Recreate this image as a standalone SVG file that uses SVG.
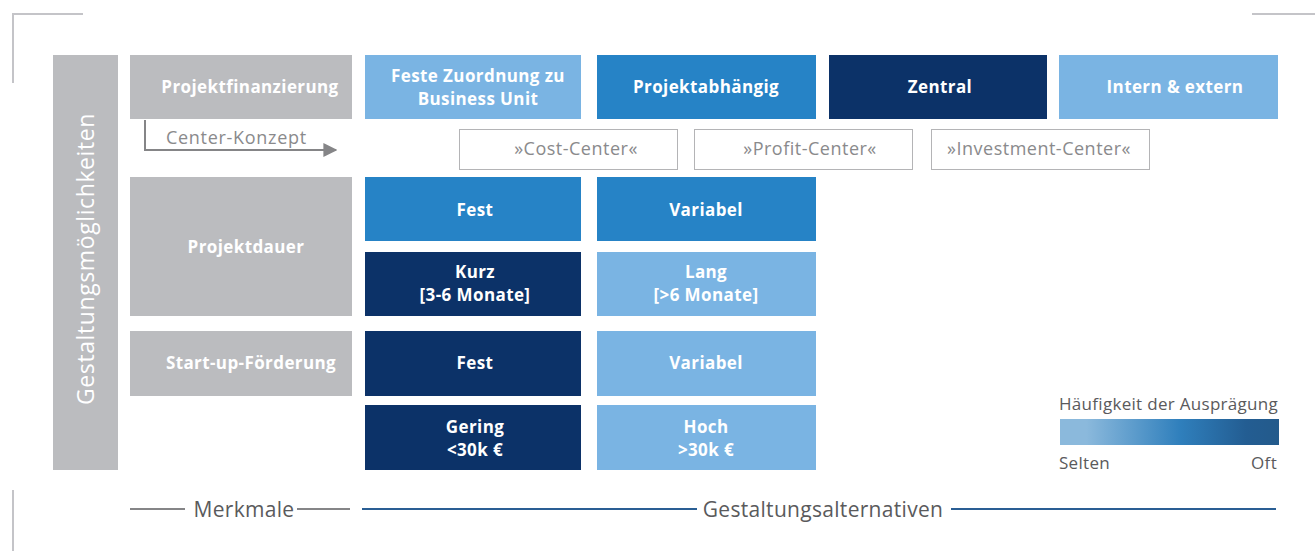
<svg xmlns="http://www.w3.org/2000/svg" width="1315" height="551" viewBox="0 0 1315 551">
  <defs>
    <style>
      .gray { fill: #bbbcbf; }
      .light { fill: #7ab4e3; }
      .mid { fill: #2683c6; }
      .navy { fill: #0c3268; }
      .lbl { font-family: "Open Sans", "Noto Sans", sans-serif; font-size: 17px; letter-spacing: 0.4px; font-weight: bold; fill: #ffffff; text-anchor: middle; }
      .cc { fill: #ffffff; stroke: #b4b4b6; stroke-width: 1; }
      .cct { font-family: "Open Sans", "Noto Sans", sans-serif; font-size: 18px; letter-spacing: 0.5px; fill: #8a8a8c; text-anchor: middle; }
      .note { font-family: "Open Sans", "Noto Sans", sans-serif; font-size: 17px; letter-spacing: 0.3px; fill: #5a5a5c; }
      .axis { font-family: "Open Sans", "Noto Sans", sans-serif; font-size: 21px; letter-spacing: 0.3px; fill: #5a5a5c; text-anchor: middle; }
      .corner { stroke: #c4c4c8; stroke-width: 2; fill: none; }
    </style>
    <linearGradient id="freq" x1="0" y1="0" x2="1" y2="0">
      <stop offset="0" stop-color="#8bb9dc"/>
      <stop offset="0.12" stop-color="#8bb9dc"/>
      <stop offset="0.55" stop-color="#2f7fbc"/>
      <stop offset="0.85" stop-color="#235d92"/>
      <stop offset="1" stop-color="#235a8b"/>
    </linearGradient>
    <marker id="arr" viewBox="0 0 10 10" refX="9" refY="5" markerWidth="14" markerHeight="14" markerUnits="userSpaceOnUse" orient="auto">
      <path d="M0,0 L10,5 L0,10 z" fill="#858587"/>
    </marker>
  </defs>

  <!-- frame corners -->
  <path class="corner" d="M13,83 V14 H83"/>
  <path class="corner" d="M1252,14 H1315"/>
  <path class="corner" d="M13,490 V551"/>

  <!-- vertical caption bar -->
  <g id="gestaltungsmoeglichkeiten">
    <rect class="gray" x="53" y="55" width="65" height="415"/>
    <text transform="translate(94,259) rotate(-90)" font-family="'Open Sans', 'Noto Sans', sans-serif" font-size="23" letter-spacing="0.6" fill="#ffffff" text-anchor="middle">Gestaltungsmöglichkeiten</text>
  </g>

  <!-- Merkmale -->
  <g id="m-finanzierung">
    <rect class="gray" x="130" y="55" width="222" height="64"/>
    <text class="lbl" x="250" y="93">Projektfinanzierung</text>
  </g>
  <g id="m-dauer">
    <rect class="gray" x="130" y="177" width="222" height="139"/>
    <text class="lbl" x="246" y="253">Projektdauer</text>
  </g>
  <g id="m-startup">
    <rect class="gray" x="130" y="331" width="222" height="65"/>
    <text class="lbl" x="251" y="369">Start-up-Förderung</text>
  </g>

  <!-- Projektfinanzierung -->
  <g id="a-feste">
    <rect class="light" x="365" y="55" width="216" height="64"/>
    <text class="lbl" x="478" y="82">Feste Zuordnung zu</text>
    <text class="lbl" x="478" y="105">Business Unit</text>
  </g>
  <g id="a-projektabh">
    <rect class="mid" x="597" y="55" width="219" height="64"/>
    <text class="lbl" x="706" y="93">Projektabhängig</text>
  </g>
  <g id="a-zentral">
    <rect class="navy" x="829" y="55" width="218" height="64"/>
    <text class="lbl" x="940" y="93">Zentral</text>
  </g>
  <g id="a-internextern">
    <rect class="light" x="1059" y="55" width="219" height="64"/>
    <text class="lbl" x="1175" y="93">Intern &amp; extern</text>
  </g>

  <!-- Center-Konzept -->
  <g id="center-konzept">
    <text x="166" y="144" font-family="'Open Sans', 'Noto Sans', sans-serif" font-size="18" letter-spacing="0.7" fill="#8a8a8c">Center-Konzept</text>
  </g>
  <g id="c-cost">
    <rect class="cc" x="459.5" y="129.5" width="218" height="40"/>
    <text class="cct" x="576" y="155">»Cost-Center«</text>
  </g>
  <g id="c-profit">
    <rect class="cc" x="694.5" y="129.5" width="218" height="40"/>
    <text class="cct" x="810" y="155">»Profit-Center«</text>
  </g>
  <g id="c-invest">
    <rect class="cc" x="931.5" y="129.5" width="218" height="40"/>
    <text class="cct" x="1039" y="155">»Investment-Center«</text>
  </g>

  <!-- Projektdauer -->
  <g id="d-fest">
    <rect class="mid" x="365" y="177" width="216" height="64"/>
    <text class="lbl" x="475" y="216">Fest</text>
  </g>
  <g id="d-variabel">
    <rect class="mid" x="597" y="177" width="219" height="64"/>
    <text class="lbl" x="706" y="216">Variabel</text>
  </g>
  <g id="d-kurz">
    <rect class="navy" x="365" y="252" width="216" height="64"/>
    <text class="lbl" x="475" y="278">Kurz</text>
    <text class="lbl" x="475" y="301">[3-6 Monate]</text>
  </g>
  <g id="d-lang">
    <rect class="light" x="597" y="252" width="219" height="64"/>
    <text class="lbl" x="706" y="278">Lang</text>
    <text class="lbl" x="706" y="301">[&gt;6 Monate]</text>
  </g>

  <!-- Start-up-Förderung -->
  <g id="s-fest">
    <rect class="navy" x="365" y="331" width="216" height="65"/>
    <text class="lbl" x="475" y="369">Fest</text>
  </g>
  <g id="s-variabel">
    <rect class="light" x="597" y="331" width="219" height="65"/>
    <text class="lbl" x="706" y="369">Variabel</text>
  </g>
  <g id="s-gering">
    <rect class="navy" x="365" y="405" width="216" height="65"/>
    <text class="lbl" x="475" y="433">Gering</text>
    <text class="lbl" x="475" y="456">&lt;30k €</text>
  </g>
  <g id="s-hoch">
    <rect class="light" x="597" y="405" width="219" height="65"/>
    <text class="lbl" x="706" y="433">Hoch</text>
    <text class="lbl" x="706" y="456">&gt;30k €</text>
  </g>

  <!-- legend -->
  <g id="legend">
    <text class="note" x="1059" y="410">Häufigkeit der Ausprägung</text>
    <rect x="1060" y="419" width="219" height="26" fill="url(#freq)"/>
    <text class="note" x="1059" y="469">Selten</text>
    <text class="note" x="1277" y="469" text-anchor="end">Oft</text>
  </g>

  <!-- axis captions -->
  <g id="axis-labels">
    <text class="axis" x="244" y="517">Merkmale</text>
    <text class="axis" x="823" y="517">Gestaltungsalternativen</text>
  </g>

  <!-- connectors -->
  <g id="connectors" fill="none">
    <path d="M145,120 V150 H336" stroke="#858587" stroke-width="2" marker-end="url(#arr)"/>
    <path d="M130,509 H185 M297,509 H350" stroke="#858587" stroke-width="2"/>
    <path d="M362,509 H697 M951,509 H1276" stroke="#2a5e94" stroke-width="2"/>
  </g>
</svg>
